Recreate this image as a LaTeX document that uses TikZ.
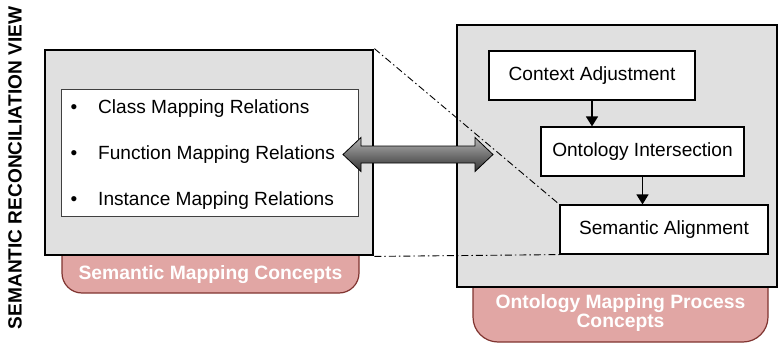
\documentclass[tikz,border=0pt]{standalone}
\usepackage{fontspec}
\setmainfont{Liberation Sans}
\usetikzlibrary{arrows.meta}
\definecolor{boxgray}{RGB}{224,224,224}
\definecolor{tabfill}{RGB}{225,166,164}
\definecolor{tabdraw}{RGB}{128,52,48}
\begin{document}
\begin{tikzpicture}[x=1pt,y=-1pt,
  txt/.style={font=\fontsize{19.1}{22}\selectfont,inner sep=0pt},
  bigbox/.style={draw=black,line width=2.8pt,fill=boxgray,inner sep=0pt},
  listbox/.style={draw=black!75,line width=1pt,fill=white,inner sep=0pt},
  stepbox/.style={draw=black,line width=1.2pt,fill=white,inner sep=0pt,minimum height=49pt,font=\fontsize{19.1}{22}\selectfont},
  tab/.style={draw=tabdraw,line width=1.2pt,fill=tabfill,rounded corners=#1},
  tablabel/.style={text=white,font=\bfseries\fontsize{19.3}{19}\selectfont,align=center,inner sep=0pt},
  flow/.style={line width=1.5pt,-{Triangle[length=10pt,width=12pt]}},
  proj/.style={line width=0.9pt,dash pattern=on 7pt off 3pt on 1.5pt off 3pt},
  blockarrow/.style={draw=black,line width=0.8pt,top color=black!30,bottom color=black!80},
]
\useasboundingbox (0,0) rectangle (780,343);

% title
\node[rotate=90,font=\bfseries\fontsize{19.1}{20}\selectfont,inner sep=0pt] (title) at (15,168) {SEMANTIC RECONCILIATION VIEW};

% tabs
\path[tab=20pt] (62,225) -- (62,293) -- (359,293) -- (359,225) -- cycle;
\path[tab=25pt] (473,240) -- (473,342) -- (768,342) -- (768,240) -- cycle;

% left box
\node[bigbox,minimum width=328pt,minimum height=205pt] (L) at (209,152.5) {};
\node[listbox,minimum width=297pt,minimum height=127pt] (list) at (209.5,152.5) {};
\node[txt,anchor=base] (b1) at (74,113.5) {\textbullet};
\node[txt,anchor=base] (b2) at (74,159.5) {\textbullet};
\node[txt,anchor=base] (b3) at (74,205.5) {\textbullet};
\node[txt,anchor=base west] (i1) at (98,113.5) {Class Mapping Relations};
\node[txt,anchor=base west] (i2) at (98,159.5) {Function Mapping Relations};
\node[txt,anchor=base west] (i3) at (98,205.5) {Instance Mapping Relations};

% right box
\node[bigbox,minimum width=320pt,minimum height=262pt] (R) at (617,156) {};
\node[stepbox,minimum width=206pt] (CA) at (592,75.5) {Context Adjustment};
\node[stepbox,minimum width=203pt] (OI) at (642.5,151.5) {Ontology Intersection};
\node[stepbox,minimum width=208pt] (SA) at (664,229.5) {Semantic Alignment};
\draw[flow] (CA.south) -- (CA.south |- OI.north);
\draw[flow] (OI.south) -- (OI.south |- SA.north);

% tab labels
\node[tablabel] (t1) at (210.5,274.5) {Semantic Mapping Concepts};
\node[tablabel] (t2) at (620.5,313.5) {Ontology Mapping Process\\Concepts};

% double block arrow
\coordinate (dl) at (343,154.5);
\coordinate (dr) at (493,154.5);
\shade[blockarrow] (dl) -- ++(18,-17) -- ++(0,8.5) -- ++(114,0) -- ++(0,-8.5) -- (dr)
  -- ++(-18,17) -- ++(0,-8.5) -- ++(-114,0) -- ++(0,8.5) -- cycle;

% projection lines
\draw[proj] (L.north east) -- (SA.north west);
\draw[proj] (L.south east) -- (SA.south west);
\end{tikzpicture}
\end{document}
